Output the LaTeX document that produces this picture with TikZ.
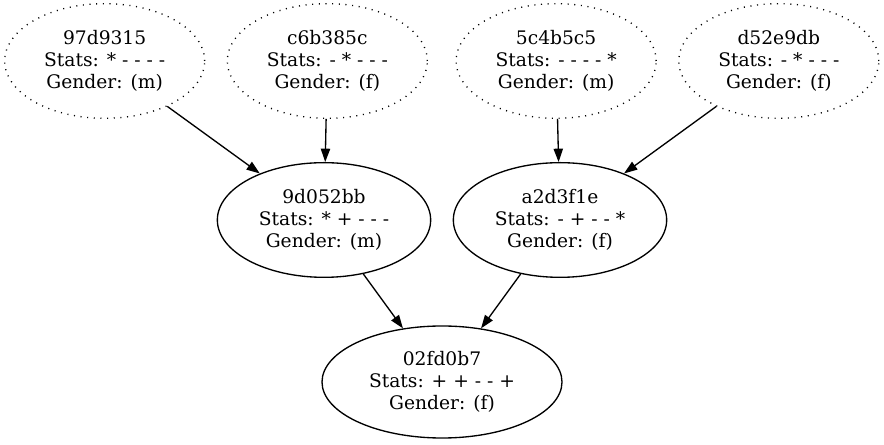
\documentclass[tikz,border=0pt]{standalone}
\usepackage{fontspec}
\setmainfont{DejaVu Serif}
\usetikzlibrary{shapes.geometric,arrows.meta}

\begin{document}
\begin{tikzpicture}[x=0.75pt, y=0.75pt, grow'=up, line width=1pt,
    every node/.style={draw, ellipse, align=center, inner sep=0pt,
      minimum height=84pt, font=\fontsize{14}{16.5}\selectfont},
    edge from parent/.style={draw, {Triangle[length=10pt,width=7pt]}-},
    level 1/.style={sibling distance=177pt, level distance=121.5pt,
      nodes={minimum width=160pt, minimum height=86pt}},
    level 2/.style={sibling distance=167pt, level distance=119.25pt,
      nodes={minimum width=150pt, dash pattern=on 0.8pt off 4.2pt}}]
  \useasboundingbox (0,0) rectangle (884,445);
  \node (n02fd0b7) at (442,63) [minimum width=180pt]
    {02fd0b7\\Stats: + + - - +\\Gender: (f)}
    child {node (n9d052bb) {9d052bb\\Stats: * + - - -\\Gender: (m)}
      child[xshift=-81pt] {node (n97d9315) {97d9315\\Stats: * - - - -\\Gender: (m)}}
      child[xshift=-81pt] {node (nc6b385c) {c6b385c\\Stats: - * - - -\\Gender: (f)}}}
    child {node (na2d3f1e) {a2d3f1e\\Stats: - + - - *\\Gender: (f)}
      child[xshift=80.6pt] {node (n5c4b5c5) {5c4b5c5\\Stats: - - - - *\\Gender: (m)}}
      child[xshift=80.6pt] {node (nd52e9db) {d52e9db\\Stats: - * - - -\\Gender: (f)}}};
\end{tikzpicture}
\end{document}
